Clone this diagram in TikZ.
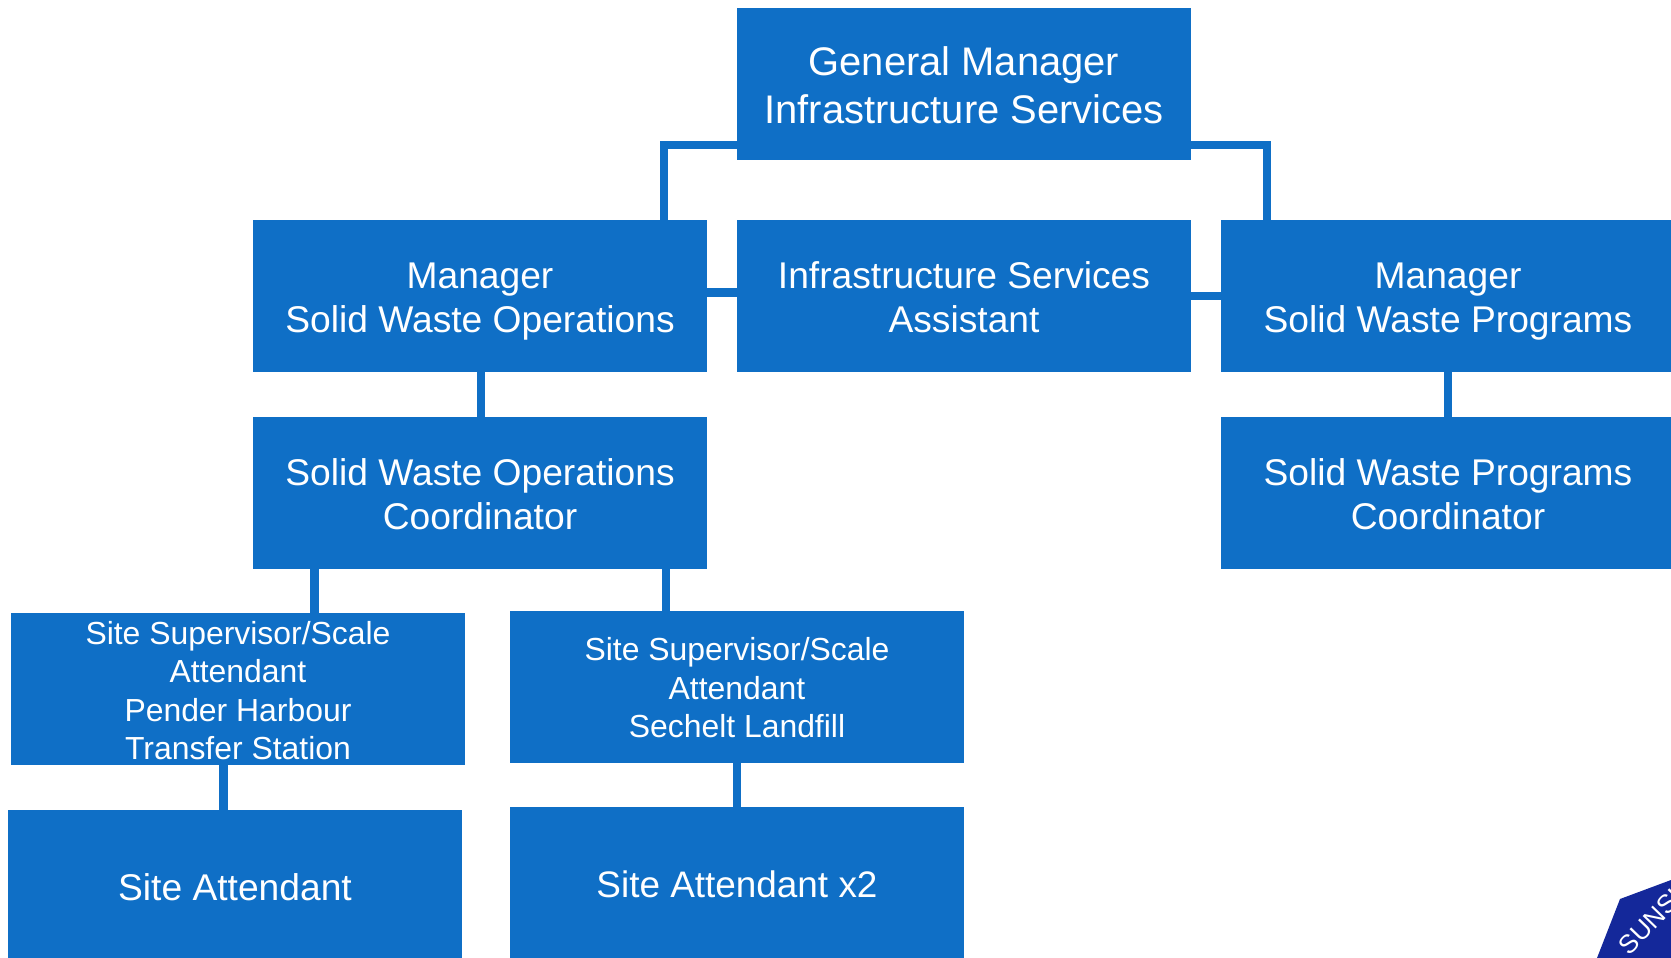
\documentclass[tikz,border=0pt]{standalone}
\usepackage{fontspec}
\setmainfont{Liberation Sans}
\definecolor{boxblue}{HTML}{0F6FC6}
\definecolor{logoblue}{HTML}{14289A}
\newcommand{\nodepth}[1]{\raisebox{0pt}[\height][0pt]{#1}}
\newcommand{\topgap}[1]{\rule{0pt}{#1}}
\tikzset{
  orgbox/.style={fill=boxblue,draw=none,text=white,inner sep=0pt,outer sep=0pt,
    minimum width=454pt,align=center},
  toptext/.style={font=\fontsize{39.9}{48}\selectfont},
  midtext/.style={font=\fontsize{37.2}{44.6}\selectfont},
  smalltext/.style={font=\fontsize{31.9}{38.4}\selectfont},
  link/.style={draw=boxblue,line width=8.4pt}
}
\begin{document}
\begin{tikzpicture}[x=1pt,y=-1pt]
\useasboundingbox (0,0) rectangle (1671,958);
\clip (0,0) rectangle (1671,958);
\fill[white] (0,0) rectangle (1671,958);
\pgfdeclarelayer{front}\pgfsetlayers{main,front}
\begin{pgfonlayer}{front}
\node[orgbox,toptext,minimum height=151.5pt] (gm) at (964,84.25) {\topgap{31.5pt}General Manager\\Infrastructure Services};
\node[orgbox,midtext,minimum height=152pt] (mgrL) at (480,296) {\topgap{29pt}Manager\\\nodepth{Solid Waste Operations}};
\node[orgbox,midtext,minimum height=152pt] (assist) at (964,296) {\topgap{29pt}Infrastructure Services\\Assistant};
\node[orgbox,midtext,minimum height=152pt] (mgrR) at (1448,296) {\topgap{29pt}Manager\\\nodepth{Solid Waste Programs}};
\node[orgbox,midtext,minimum height=152pt] (coordL) at (480,493) {\topgap{29pt}Solid Waste Operations\\Coordinator};
\node[orgbox,midtext,minimum height=152pt] (coordR) at (1448,493) {\topgap{29pt}Solid Waste Programs\\Coordinator};
\node[orgbox,smalltext,minimum height=152pt] (siteP) at (238,689) {};
\node[smalltext,text=white,align=center,inner sep=0pt] (sitePtext) at (238,690.5) {Site Supervisor/Scale\\Attendant\\Pender Harbour\\Transfer Station};
\node[orgbox,smalltext,minimum height=152pt] (siteS) at (737,687) {\topgap{25pt}Site Supervisor/Scale\\Attendant\\Sechelt Landfill};
\node[orgbox,midtext,minimum height=152pt] (attL) at (235,886) {\topgap{29.5pt}Site Attendant};
\node[orgbox,font=\fontsize{36.9}{44}\selectfont,minimum height=152pt] (attR) at (737,883) {\topgap{29.5pt}Site Attendant x2};
\end{pgfonlayer}
% connectors
\draw[link] ([yshift=-60.75pt]gm.west) -| ([xshift=-43pt]mgrL.north east);
\draw[link] ([yshift=-60.75pt]gm.east) -| ([xshift=76pt]assist.north east);
\draw[link] ([yshift=3.5pt]mgrL.east) -- ([yshift=3.5pt]assist.west);
\draw[link] (assist.east) -- (mgrR.west);
\draw[link] ([xshift=1pt]mgrL.south) -- ([xshift=1pt]coordL.north);
\draw[link] (mgrR.south) -- (coordR.north);
\draw[link] ([xshift=-165.5pt]coordL.south) -- ([xshift=76.5pt]siteP.north);
\draw[link] ([xshift=186pt]coordL.south) -- ([xshift=-71pt]siteS.north);
\draw[link] ([xshift=-14.5pt]siteP.south) -- ([xshift=-11.5pt]attL.north);
\draw[link] (siteS.south) -- (attR.north);
% logo corner
\fill[logoblue] (1597,958) -- (1620,899) -- (1671,880) -- (1671,958) -- cycle;
\node[text=white,font=\fontsize{26}{26}\selectfont,rotate=46,inner sep=0pt,anchor=west] (logo) at (1623,950) {SUNSH};
\end{tikzpicture}
\end{document}
